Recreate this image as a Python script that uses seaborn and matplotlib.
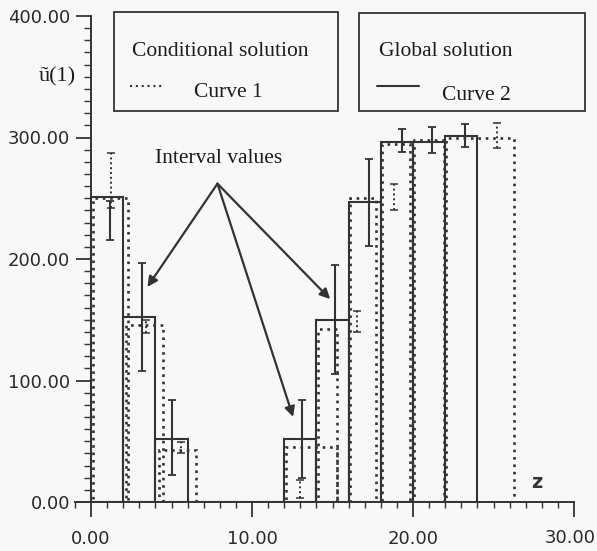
import numpy as np
import pandas as pd
import seaborn as sns
import matplotlib.pyplot as plt
from matplotlib.patches import Rectangle
from matplotlib.lines import Line2D
from matplotlib.ticker import MultipleLocator, FormatStrFormatter, FuncFormatter

# Global solution (curve 2): bars of width 2
glob_left = [0, 2, 4, 12, 14, 16, 18, 20, 22]
glob_height = [251, 152, 52, 52, 150, 247, 296, 296, 301]
bar_width = 2

# Conditional solution (curve 1): dotted bars
cond_left = [0.1, 2.15, 4.2, 12.1, 14.1, 16.1, 18.1, 20.05, 22.05]
cond_right = [2.3, 4.45, 6.5, 15.3, 15.3, 17.7, 19.8, 21.95, 26.3]
cond_height = [250, 146, 43, 45, 142, 250, 295, 298, 300]

# interval values
glob_x = [1.2, 3.15, 5.05, 13.1, 15.15, 17.25, 19.3, 21.15, 23.2]
glob_lo = [216, 108, 22, 20, 105, 211, 288, 287, 292]
glob_hi = [248, 197, 84, 84, 195, 282, 307, 309, 311]

cond_x = [1.25, 3.4, 5.6, 13.0, 16.5, 18.8, 25.2]
cond_lo = [242, 139, 40, 3, 140, 240, 291]
cond_hi = [287, 150, 49, 18, 157, 262, 312]

# arrows: from label to intervals
arrow_from = (7.85, 262)
arrow_to = [(3.5, 177), (12.55, 70), (14.85, 167)]

x_max = 30

ink = "#333333"
txt = "#1c1c1c"
serif = "Liberation Serif"
dots = (0, (1, 1.8))

sns.set_style("ticks")
plt.rcParams["font.family"] = ["DejaVu Sans"]

fig = plt.figure(figsize=(5.97, 5.51), dpi=100, facecolor="#f8f8f8")
ax = fig.add_axes([75 / 597, 49 / 551, 499 / 597, 486 / 551])
ax.set_facecolor("#f8f8f8")

glob = pd.DataFrame({"z": [l + bar_width / 2 for l in glob_left], "u": glob_height})
edges = [float(e) for e in range(0, max(glob_left) + bar_width + 1, bar_width)]
sns.histplot(data=glob, x="z", weights="u", bins=edges,
             element="bars", fill=False, color=ink, linewidth=1.5, ax=ax)

cond_width = np.array(cond_right) - np.array(cond_left)
ax.bar(cond_left, cond_height, width=cond_width, align="edge", fill=False,
       edgecolor=ink, linestyle=dots, linewidth=1.9)

ax.errorbar(glob_x, [(a + b) / 2 for a, b in zip(glob_lo, glob_hi)],
            yerr=[[(b - a) / 2 for a, b in zip(glob_lo, glob_hi)]] * 2,
            fmt="none", ecolor=ink, elinewidth=1.5, capsize=3, capthick=1.3)
eb = ax.errorbar(cond_x, [(a + b) / 2 for a, b in zip(cond_lo, cond_hi)],
                 yerr=[[(b - a) / 2 for a, b in zip(cond_lo, cond_hi)]] * 2,
                 fmt="none", ecolor=ink, elinewidth=1.4, capsize=3, capthick=1.1)
for c in eb[2]:
    c.set_linestyle((0, (1, 1.5)))

ax.text(7.9, 283, "Interval values", family=serif, fontsize=15.5, color=txt,
        ha="center", va="center")
for tx, ty in arrow_to:
    ax.annotate("", xy=(tx, ty), xytext=arrow_from,
                arrowprops=dict(arrowstyle="-|>", color=ink, lw=1.6,
                                mutation_scale=15, shrinkA=0, shrinkB=0))

ax.set_xlim(-1, x_max)
ax.set_ylim(0, 400)
ax.spines["left"].set_position(("data", 0))
ax.spines["top"].set_visible(False)
ax.spines["right"].set_visible(False)
for s in ("left", "bottom"):
    ax.spines[s].set_color(ink)
    ax.spines[s].set_linewidth(1.4)

ax.xaxis.set_major_locator(MultipleLocator(10))
ax.xaxis.set_minor_locator(MultipleLocator(1))
ax.yaxis.set_major_locator(MultipleLocator(100))
ax.yaxis.set_minor_locator(MultipleLocator(10))
# the last x label is placed by hand so it stays inside the picture
ax.xaxis.set_major_formatter(FuncFormatter(lambda v, p: "" if v >= x_max else f"{v:.2f}"))
ax.yaxis.set_major_formatter(FormatStrFormatter("%.2f"))
ax.tick_params(axis="x", which="major", direction="out", length=11, width=1.3,
               color=ink, labelsize=13, labelcolor="#2a2a2a", pad=9)
ax.tick_params(axis="x", which="minor", direction="out", length=4, width=1, color=ink)
ax.tick_params(axis="y", which="major", direction="out", length=11, width=1.3,
               color=ink, labelsize=13, labelcolor="#2a2a2a", pad=4)
ax.tick_params(axis="y", which="minor", direction="out", length=5, width=1, color=ink)
ax.set_xlabel("")
ax.set_ylabel("")
fig.text(596 / 597, 1 - 538 / 551, f"{x_max:.2f}", fontsize=13, color="#2a2a2a",
         ha="right", va="center")

# axis names
fig.text(76 / 597, 1 - 77 / 551, "ũ(1)", family=serif, fontsize=16, color=txt,
         ha="right", va="center")
ax.text(27.7, 16, "z", fontsize=14, fontweight="bold", color="#333",
        ha="center", va="center")

# legend boxes
def legend_box(x0, x1, y0, y1, title, tx, ty, line_x, line_y, style, label, lx, ly):
    W, H = 597, 551
    fig.patches.append(Rectangle((x0 / W, 1 - y1 / H), (x1 - x0) / W, (y1 - y0) / H,
                                 transform=fig.transFigure, fill=False,
                                 edgecolor=ink, linewidth=1.3))
    fig.text(tx / W, 1 - ty / H, title, family=serif, fontsize=15.5, color=txt,
             ha="left", va="baseline")
    fig.lines.append(Line2D([line_x[0] / W, line_x[1] / W], [1 - line_y / H] * 2,
                            transform=fig.transFigure, color=ink, linewidth=1.5,
                            linestyle=style))
    fig.text(lx / W, 1 - ly / H, label, family=serif, fontsize=15.5, color=txt,
             ha="left", va="baseline")

legend_box(114, 338, 12, 111, "Conditional solution", 132, 56, (130, 165), 86,
           dots, "Curve 1", 194, 97)
legend_box(359, 585, 13, 111, "Global solution", 379, 56, (377, 419), 86,
           "-", "Curve 2", 442, 100)

fig.savefig("out.png", dpi=100, facecolor=fig.get_facecolor())
